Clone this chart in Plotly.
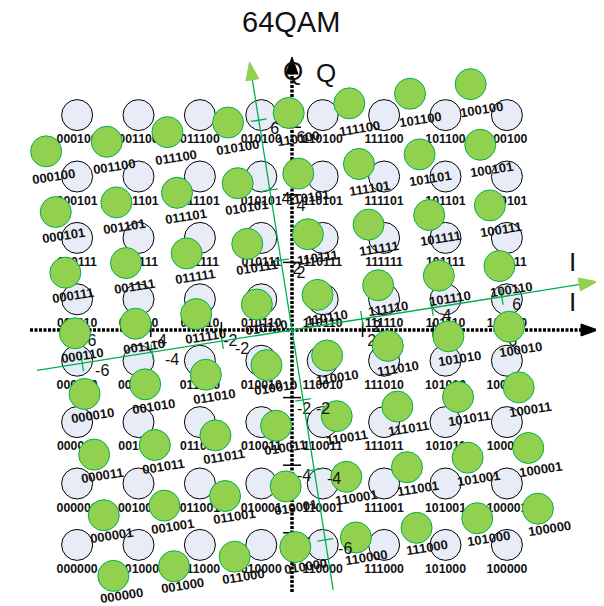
import math
import plotly.graph_objects as go

# ---------------- data ----------------
levels = [-7, -5, -3, -1, 1, 3, 5, 7]                      # I and Q amplitude levels
gray_bits = ["000", "001", "011", "010", "110", "111", "101", "100"]  # Gray code per level
rotation_deg = 9                                            # rotation of the green constellation
axis_ticks = [-6, -4, -2, 2, 4, 6]                          # axis tick values
title_text = "64QAM"

# ---------------- layout helpers ----------------
PAGE_OFF = 8              # default body margin of the html page
W, H = 596, 598           # figure size (fits inside 604x606 window)
PX = 30.7                 # pixels per unit
OX, OY = 292, 330         # page pixel position of origin
FONT = "Liberation Sans, Arial, sans-serif"

def px2d(px, py):
    return ((px - OX) / PX, (OY - py) / PX)

th = math.radians(rotation_deg)
c, s = math.cos(th), math.sin(th)

def rot(x, y):
    return (x * c - y * s, x * s + y * c)

fig = go.Figure()

def add_line(xs, ys, color, width, dash="solid"):
    fig.add_trace(go.Scatter(x=xs, y=ys, mode="lines", hoverinfo="skip",
                             line=dict(color=color, width=width, dash=dash)))

def arrow_head(tip, direction, length, width, fill, line):
    dx, dy = direction
    L, Wd = length / PX, width / PX
    bx, by = tip[0] - dx * L, tip[1] - dy * L
    nx, ny = -dy, dx
    xs = [tip[0], bx + nx * Wd / 2, bx - nx * Wd / 2, tip[0]]
    ys = [tip[1], by + ny * Wd / 2, by - ny * Wd / 2, tip[1]]
    fig.add_trace(go.Scatter(x=xs, y=ys, mode="lines", fill="toself", fillcolor=fill,
                             hoverinfo="skip", line=dict(color=line, width=1)))

# ---------------- black axes ----------------
I_left = px2d(30, OY)[0]
I_tip = px2d(598, OY)[0]
Q_bot = px2d(OX, 592)[1]
Q_tip = px2d(OX, 57)[1]
add_line([I_left, I_tip - 12 / PX], [0, 0], "black", 3.5, "3px,1.5px")
add_line([0, 0], [Q_bot, Q_tip - 12 / PX], "black", 3.5, "3px,1.5px")
arrow_head((I_tip, 0), (1, 0), 17, 12, "black", "black")
arrow_head((0, Q_tip), (0, 1), 17, 12, "black", "black")

TI = 35.3 / PX
TQ = 33.8 / PX
tx, ty = [], []
for t in axis_ticks:
    tx += [t * TI, t * TI, None]
    ty += [-7 / PX, 8 / PX, None]
    tx += [-9 / PX, 9 / PX, None]
    ty += [t * TQ, t * TQ, None]
add_line(tx, ty, "black", 1.5)

# ---------------- original constellation ----------------
ox, oy, olab = [], [], []
for qi, q in enumerate(levels):
    for ii, i in enumerate(levels):
        ox.append(i)
        oy.append(q)
        olab.append(gray_bits[ii] + gray_bits[qi])

fig.add_trace(go.Scatter(x=ox, y=oy, mode="markers", hoverinfo="skip",
                         marker=dict(size=31, color="#e7ecf6",
                                     line=dict(color="black", width=1))))
fig.add_trace(go.Scatter(x=ox, y=[v - 25 / PX for v in oy], mode="text", text=olab,
                         hoverinfo="skip",
                         textfont=dict(family=FONT, size=12.3, color="#111", weight="bold")))

# black tick labels
blx, bly, blt = [], [], []
for t in axis_ticks:
    blx.append(t * TI + 9 / PX); bly.append(-12 / PX); blt.append(str(t))
    blx.append(9 / PX + (3 / PX if t < 0 else 0)); bly.append(t * TQ - 12 / PX); blt.append(str(t))
fig.add_trace(go.Scatter(x=blx, y=bly, mode="text", text=blt, hoverinfo="skip",
                         textfont=dict(family=FONT, size=16, color="#111")))

# ---------------- green rotated axes ----------------
TG = 35.4 / PX
gI = (c, s)
gQ = (-s, c)
gI_a, gI_b = -8.41, 10.06
gQ_a, gQ_b = -8.57, 8.84
add_line([gI[0] * gI_a, gI[0] * (gI_b - 14 / PX)], [gI[1] * gI_a, gI[1] * (gI_b - 14 / PX)],
         "#00b050", 1.3)
add_line([gQ[0] * gQ_a, gQ[0] * (gQ_b - 14 / PX)], [gQ[1] * gQ_a, gQ[1] * (gQ_b - 14 / PX)],
         "#00b050", 1.3)
arrow_head((gI[0] * gI_b, gI[1] * gI_b), gI, 18, 13, "#92d050", "#92d050")
arrow_head((gQ[0] * gQ_b, gQ[1] * gQ_b), gQ, 18, 13, "#92d050", "#92d050")

gtx, gty = [], []
hl = 8 / PX
for t in axis_ticks:
    px_, py_ = gI[0] * t * TG, gI[1] * t * TG
    gtx += [px_ + gQ[0] * hl, px_ - gQ[0] * hl, None]
    gty += [py_ + gQ[1] * hl, py_ - gQ[1] * hl, None]
    px_, py_ = gQ[0] * t * TG, gQ[1] * t * TG
    gtx += [px_ + gI[0] * hl, px_ - gI[0] * hl, None]
    gty += [py_ + gI[1] * hl, py_ - gI[1] * hl, None]
add_line(gtx, gty, "#00b050", 1.3)

# ---------------- green rotated constellation ----------------
gx, gy = [], []
for i, q in zip(ox, oy):
    a, b = rot(i, q)
    gx.append(a)
    gy.append(b)
fig.add_trace(go.Scatter(x=gx, y=gy, mode="markers", hoverinfo="skip",
                         marker=dict(size=31, color="#92d050",
                                     line=dict(color="#00b050", width=1))))

# green tick labels
glx, gly, glt = [], [], []
for t in axis_ticks:
    a, b = gI[0] * t * TG, gI[1] * t * TG
    glx.append(a + (15 + (5 if t < 0 else 0)) / PX); gly.append(b - 9 / PX); glt.append(str(t))
    a, b = gQ[0] * t * TG, gQ[1] * t * TG
    glx.append(a + (16 + (4 if t < 0 else 0)) / PX); gly.append(b - 10 / PX); glt.append(str(t))
fig.add_trace(go.Scatter(x=glx, y=gly, mode="text", text=glt, hoverinfo="skip",
                         textfont=dict(family=FONT, size=16, color="#111")))

# rotated bit labels (label offset drifts slightly across the layer, as in the source)
annotations = []
for (a, b), lab in zip(zip(gx, gy), olab):
    off_x = (9.7 + 0.009 * a * PX) / PX
    off_y = (22.5 + 0.012 * b * PX) / PX
    annotations.append(dict(x=a + off_x, y=b - off_y, xref="x", yref="y",
                            text=lab, showarrow=False, textangle=-rotation_deg,
                            font=dict(family=FONT, size=13, color="#111", weight="bold")))

# axis names and title
def add_text(px, py, txt, size):
    x, y = px2d(px, py)
    annotations.append(dict(x=x, y=y, xref="x", yref="y", text=txt, showarrow=False,
                            font=dict(family=FONT, size=size, color="#111")))

add_text(291, 22, title_text, 29)
add_text(293, 71, "Q", 26)
add_text(326, 73, "Q", 26)
add_text(572, 262, "I", 26)
add_text(572, 302, "I", 26)

# data ranges: figure starts at page pixel (PAGE_OFF, PAGE_OFF)
xr = [(PAGE_OFF - OX) / PX, (PAGE_OFF + W - OX) / PX]
yr = [(OY - PAGE_OFF - H) / PX, (OY - PAGE_OFF) / PX]
fig.update_layout(
    width=W, height=H,
    margin=dict(l=0, r=0, t=0, b=0),
    paper_bgcolor="white", plot_bgcolor="white",
    showlegend=False,
    xaxis=dict(range=xr, visible=False, fixedrange=True),
    yaxis=dict(range=yr, visible=False, fixedrange=True),
    annotations=annotations,
)
fig.write_html("out.html", config={"displayModeBar": False})
